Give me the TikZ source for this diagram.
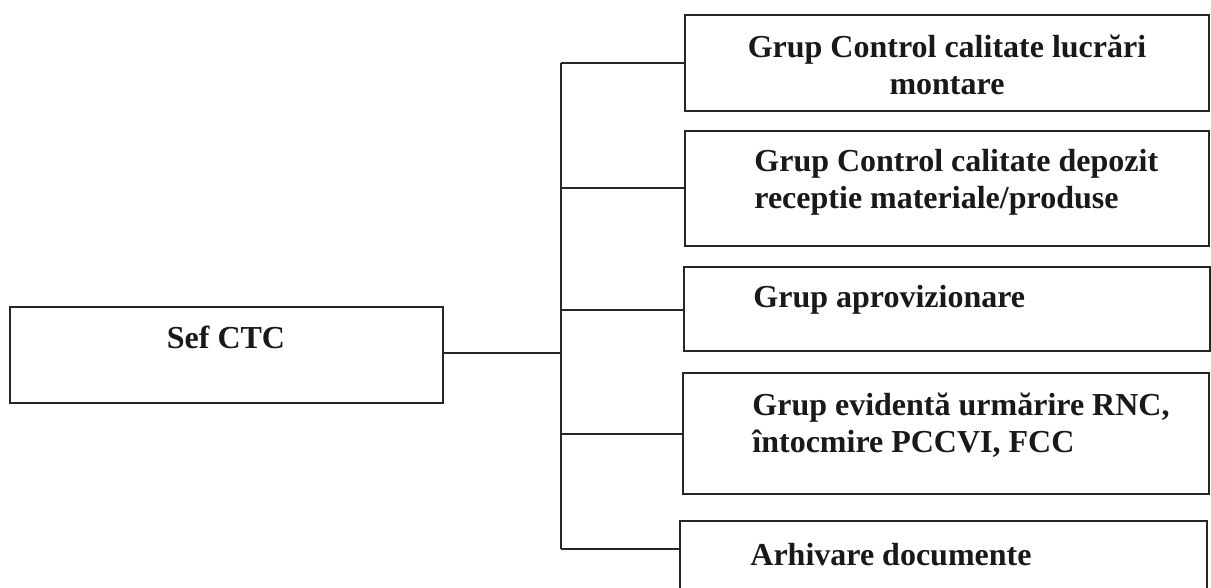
\documentclass[tikz,border=0pt]{standalone}
\usepackage{fontspec}
\setmainfont{Liberation Serif}
\begin{document}
\begin{tikzpicture}[x=0.5pt,y=-0.5pt,
  box/.style={draw=black!85, line width=1pt, inner sep=0pt, outer sep=0pt, rectangle},
  lbl/.style={font=\fontsize{16}{18.5}\selectfont\bfseries, inner sep=0pt, text=black!90},
  conn/.style={draw=black!85, line width=1pt}]
\useasboundingbox (0,0) rectangle (1211,588);
\clip (0,0) rectangle (1211,588);
\fill[white] (0,0) rectangle (1211,588);
% boxes
\node[box, minimum width=433*0.5pt, minimum height=96*0.5pt] (sef) at (226.5,355) {};
\node[box, minimum width=524*0.5pt, minimum height=96*0.5pt] (b1) at (947,63) {};
\node[box, minimum width=524*0.5pt, minimum height=115*0.5pt] (b2) at (947,188.5) {};
\node[box, minimum width=526*0.5pt, minimum height=84*0.5pt] (b3) at (947,309) {};
\node[box, minimum width=526*0.5pt, minimum height=121*0.5pt] (b4) at (946,433.5) {};
\node[box, minimum width=527*0.5pt, minimum height=99*0.5pt] (b5) at (943.5,570.5) {};
% labels
\node[lbl] (tsef) at (226,337) {Sef CTC};
\node[lbl, align=center] (t1) at (947,65) {Grup Control calitate lucrări\\montare};
\node[lbl, align=left, anchor=west] (t2) at (754,182) {Grup Control calitate depozit\\receptie materiale/produse};
\node[lbl, anchor=west] (t3) at (753,300) {Grup aprovizionare};
\node[lbl, align=left, anchor=west] (t4) at (752,425) {Grup evidentă urmărire RNC,\\întocmire PCCVI, FCC};
\node[lbl, anchor=west] (t5) at (750,555) {Arhivare documente};
% junction points on the trunk
\coordinate (j0) at (561,353);
\coordinate (j1) at (561,63);
\coordinate (j2) at (561,188);
\coordinate (j3) at (561,310);
\coordinate (j4) at (561,434);
\coordinate (j5) at (561,549);
% connectors
\draw[conn] (j1) -- (j5);
\draw[conn] (sef.east |- j0) -- (j0);
\draw[conn] (j1) -- (j1 -| b1.west);
\draw[conn] (j2) -- (j2 -| b2.west);
\draw[conn] (j3) -- (j3 -| b3.west);
\draw[conn] (j4) -- (j4 -| b4.west);
\draw[conn] (j5) -- (j5 -| b5.west);
\end{tikzpicture}
\end{document}
